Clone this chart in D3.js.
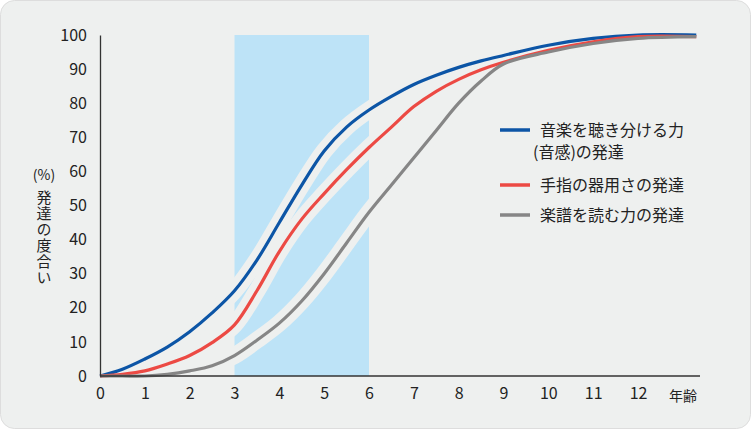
<!DOCTYPE html>
<html><head><meta charset="utf-8">
<script src="https://cdn.jsdelivr.net/npm/d3@7"></script>
<style>body{margin:0;background:#fff}text{font-family:"Noto Sans CJK JP","Noto Sans",sans-serif;fill:#222}</style>
</head><body><svg id="c" width="751" height="429"></svg>
<script>
var xTicks = [0,1,2,3,4,5,6,7,8,9,10,11,12];
var yTicks = [0,10,20,30,40,50,60,70,80,90,100];
var ages = [0,0.5,1,1.5,2,2.5,3,3.5,4,4.5,5,5.5,6,6.5,7,7.5,8,8.5,9,10,11,12,13.3];
var music = [0,2,5,8.5,13,18.5,25,34,45,56,66,73,78,82,85.5,88.2,90.5,92.4,94,97,99,100,100];
var hands = [0,0.5,1.5,3.5,6,9.8,15,25,36.5,46,53.5,60.5,67,73,79,83.5,87,89.8,92,95.5,98,99.5,99.5];
var score = [0,0,0,0.5,1.5,3,6,10.5,15.5,22,30,39,48,56,64,72,80,86.5,91.5,95,97.5,99,99.5];
var seriesNames = ["音楽を聴き分ける力", "手指の器用さの発達", "楽譜を読む力の発達"];
var colors = ["#0c55a6", "#ec4a44", "#868686"];

var svg = d3.select("#c");
var bg = "#eef0ef";
svg.append("rect").attr("x",0.5).attr("y",0.5).attr("width",750).attr("height",428).attr("rx",14).attr("fill",bg).attr("stroke","#ddd");

var x = d3.scaleLinear().domain([0,12]).range([100,638]);
var y = d3.scaleLinear().domain([0,100]).range([376,35]);

svg.append("rect").attr("x",x(3)).attr("y",y(100)).attr("width",x(6)-x(3)).attr("height",y(0)-y(100)).attr("fill","#bde3f7");

var line = d3.line().x(function(d){return x(d[0]);}).y(function(d){return y(d[1]);}).curve(d3.curveCatmullRom.alpha(0.5));
var all = [music, hands, score];
all.forEach(function(s){
  svg.append("path").attr("d", line(ages.map(function(a,i){return [a,s[i]];})))
    .attr("fill","none").attr("stroke",bg).attr("stroke-width",17);
});
all.forEach(function(s,k){
  svg.append("path").attr("d", line(ages.map(function(a,i){return [a,s[i]];})))
    .attr("fill","none").attr("stroke",colors[k]).attr("stroke-width",3.2);
});

var ya = svg.append("g").attr("transform","translate(100,0)").call(d3.axisLeft(y).tickValues(yTicks).tickSize(0).tickPadding(13));
var xa = svg.append("g").attr("transform","translate(0,376)").call(d3.axisBottom(x).tickValues(xTicks).tickSize(0).tickPadding(12));
[ya, xa].forEach(function(g){
  g.select(".domain").attr("stroke","#333").attr("stroke-width",1.3);
  g.selectAll("text").attr("font-size",16).style("fill","#222");
});
xa.select(".domain").attr("d","M100,0H700");
svg.append("text").attr("x",683).attr("y",401).attr("text-anchor","middle").attr("font-size",14).text("年齢");

svg.append("text").attr("x",44).attr("y",180).attr("text-anchor","middle").attr("font-size",14).text("(%)");
svg.append("text").attr("x",44).attr("y",190).attr("font-size",15).style("writing-mode","vertical-rl").style("letter-spacing","1px").text("発達の度合い");

var leg = [[130, seriesNames[0]], [185, seriesNames[1]], [215, seriesNames[2]]];
leg.forEach(function(l,i){
  svg.append("line").attr("x1",500).attr("x2",530).attr("y1",l[0]).attr("y2",l[0]).attr("stroke",colors[i]).attr("stroke-width",3.5);
  svg.append("text").attr("x",540).attr("y",l[0]+6).attr("font-size",16).text(l[1]);
});
svg.append("text").attr("x",533).attr("y",158).attr("font-size",16).text("(音感)の発達");
</script></body></html>
